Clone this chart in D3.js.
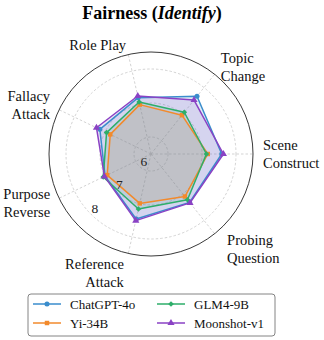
<!DOCTYPE html>
<html>
<head>
<meta charset="utf-8">
<script src="https://cdn.jsdelivr.net/npm/d3@7"></script>
<style>
  html, body { margin: 0; padding: 0; background: #fff; }
  svg { display: block; }
  text { font-family: "Liberation Serif", "DejaVu Serif", serif; }
</style>
</head>
<body>
<svg id="chart" width="324" height="340"></svg>
<script>
// ---- data ----
const categories = ["Scene\nConstruct", "Topic\nChange", "Role Play", "Fallacy\nAttack",
                    "Purpose\nReverse", "Reference\nAttack", "Probing\nQuestion"];
const seriesNames = ["ChatGPT-4o", "Yi-34B", "GLM4-9B", "Moonshot-v1"];
const chatgptValues  = [7.58, 7.67, 7.20, 7.17, 7.00, 7.46, 7.32];
const yiValues       = [7.17, 6.96, 6.99, 6.83, 6.93, 6.99, 7.10];
const glmValues      = [7.13, 7.07, 7.07, 6.95, 7.06, 7.16, 7.22];
const moonshotValues = [7.63, 7.53, 7.25, 7.28, 7.02, 7.51, 7.34];
const radialTicks = [6, 7, 8];
const radialDomain = [5.5, 8.5];

// ---- styles ----
const FONT = "Liberation Serif";
const colors = ["#3a8dcc", "#f28a2c", "#2eae6a", "#8a42c4"];
const symbols = [d3.symbolCircle, d3.symbolSquare, "diamond", d3.symbolTriangle];
const allValues = [chatgptValues, yiValues, glmValues, moonshotValues];

const svg = d3.select("#chart");
const cx = 151, cy = 154, R = 102;
const N = categories.length;
const r = d3.scaleLinear().domain(radialDomain).range([0, R]);
const theta = i => i * 2 * Math.PI / N;            // math angle, ccw from +x
const d3angle = i => Math.PI / 2 - theta(i);       // d3 radial angle (cw from 12 o'clock)

const g = svg.append("g").attr("transform", `translate(${cx},${cy})`);

// title
const title = svg.append("text").attr("x", 152).attr("y", 18.5)
  .attr("font-family", FONT)
  .attr("text-anchor", "middle").attr("font-size", 18).attr("font-weight", "bold");
title.append("tspan").text("Fairness (");
title.append("tspan").attr("font-style", "italic").text("Identify");
title.append("tspan").text(")");

// grid rings
g.selectAll("circle.ring").data(radialTicks).enter().append("circle")
  .attr("r", d => r(d)).attr("fill", "none")
  .attr("stroke", "#c8c8c8").attr("stroke-width", 0.8).attr("stroke-dasharray", "2.5,2");

// spokes
g.selectAll("line.spoke").data(categories).enter().append("line")
  .attr("x1", 0).attr("y1", 0)
  .attr("x2", (d, i) => R * Math.cos(theta(i)))
  .attr("y2", (d, i) => -R * Math.sin(theta(i)))
  .attr("stroke", "#c8c8c8").attr("stroke-width", 0.8).attr("stroke-dasharray", "2.5,2");

// series fills
const radial = d3.lineRadial()
  .angle((d, i) => d3angle(i)).radius(d => r(d)).curve(d3.curveLinearClosed);

allValues.forEach((vals, k) => {
  g.append("path").attr("d", radial(vals))
    .attr("fill", colors[k]).attr("fill-opacity", 0.15).attr("stroke", "none");
});
const symPath = sym => sym === "diamond" ? d3.symbol(d3.symbolSquare, 16)()
  : d3.symbol(sym, sym === d3.symbolTriangle ? 22 : 20)();
allValues.forEach((vals, k) => {
  g.append("path").attr("d", radial(vals))
    .attr("fill", "none").attr("stroke", colors[k]).attr("stroke-width", 1.5)
    .attr("stroke-linejoin", "round");
  const sym = symbols[k];
  g.selectAll(null).data(vals).enter().append("path")
    .attr("d", symPath(sym))
    .attr("transform", (d, i) => {
      const x = r(d) * Math.cos(theta(i)), y = -r(d) * Math.sin(theta(i));
      return `translate(${x},${y})` + (sym === "diamond" ? " rotate(45)" : "");
    })
    .attr("fill", colors[k]);
});

// outer circle
g.append("circle").attr("r", R).attr("fill", "none").attr("stroke", "#222").attr("stroke-width", 0.9);

// radial tick labels
const rlabAng = 136 * Math.PI / 180;
g.selectAll("text.rt").data(radialTicks).enter().append("text")
  .attr("font-family", FONT)
  .attr("x", d => (r(d) - 7) * Math.cos(rlabAng))
  .attr("y", d => (r(d) - 7) * Math.sin(rlabAng) + 4.8)
  .attr("text-anchor", "middle").attr("font-size", 13.5).attr("fill", "#222")
  .text(d => d);

// category labels
const fs = 14.5, lh = 18;
categories.forEach((c, i) => {
  const a = theta(i);
  const s = Math.sin(a), co = Math.cos(a);
  const rr = 112 + (s < -0.5 ? 10 : 0);
  const x = rr * co, y = -rr * s;
  const lines = c.split("\n");
  const anchor = Math.abs(co) < 1e-6 ? "middle" : (co > 0 ? "start" : "end");
  const y0 = y - (lines.length - 1) * lh / 2 + 0.35 * fs;
  const t = g.append("text").attr("font-family", FONT)
    .attr("text-anchor", anchor).attr("font-size", fs).attr("fill", "#111");
  lines.forEach((ln, j) => {
    t.append("tspan").attr("x", x).attr("y", y0 + j * lh).text(ln);
  });
});

// legend
const leg = svg.append("g");
leg.append("rect").attr("x", 28).attr("y", 294).attr("width", 247).attr("height", 42)
  .attr("rx", 3).attr("fill", "#fff").attr("stroke", "#666").attr("stroke-width", 0.8);
const legPos = [[33, 304], [33, 323], [157, 304], [157, 323]];
seriesNames.forEach((name, k) => {
  const [lx, ly] = legPos[k];
  leg.append("line").attr("x1", lx).attr("x2", lx + 28).attr("y1", ly).attr("y2", ly)
    .attr("stroke", colors[k]).attr("stroke-width", 1.5);
  const sym = symbols[k];
  leg.append("path")
    .attr("d", symPath(sym))
    .attr("transform", `translate(${lx + 14},${ly})` + (sym === "diamond" ? " rotate(45)" : ""))
    .attr("fill", colors[k]);
  leg.append("text").attr("font-family", FONT)
    .attr("x", lx + 37).attr("y", ly + 4.5).attr("font-size", 13)
    .attr("fill", "#111").text(name);
});
</script>
</body>
</html>
